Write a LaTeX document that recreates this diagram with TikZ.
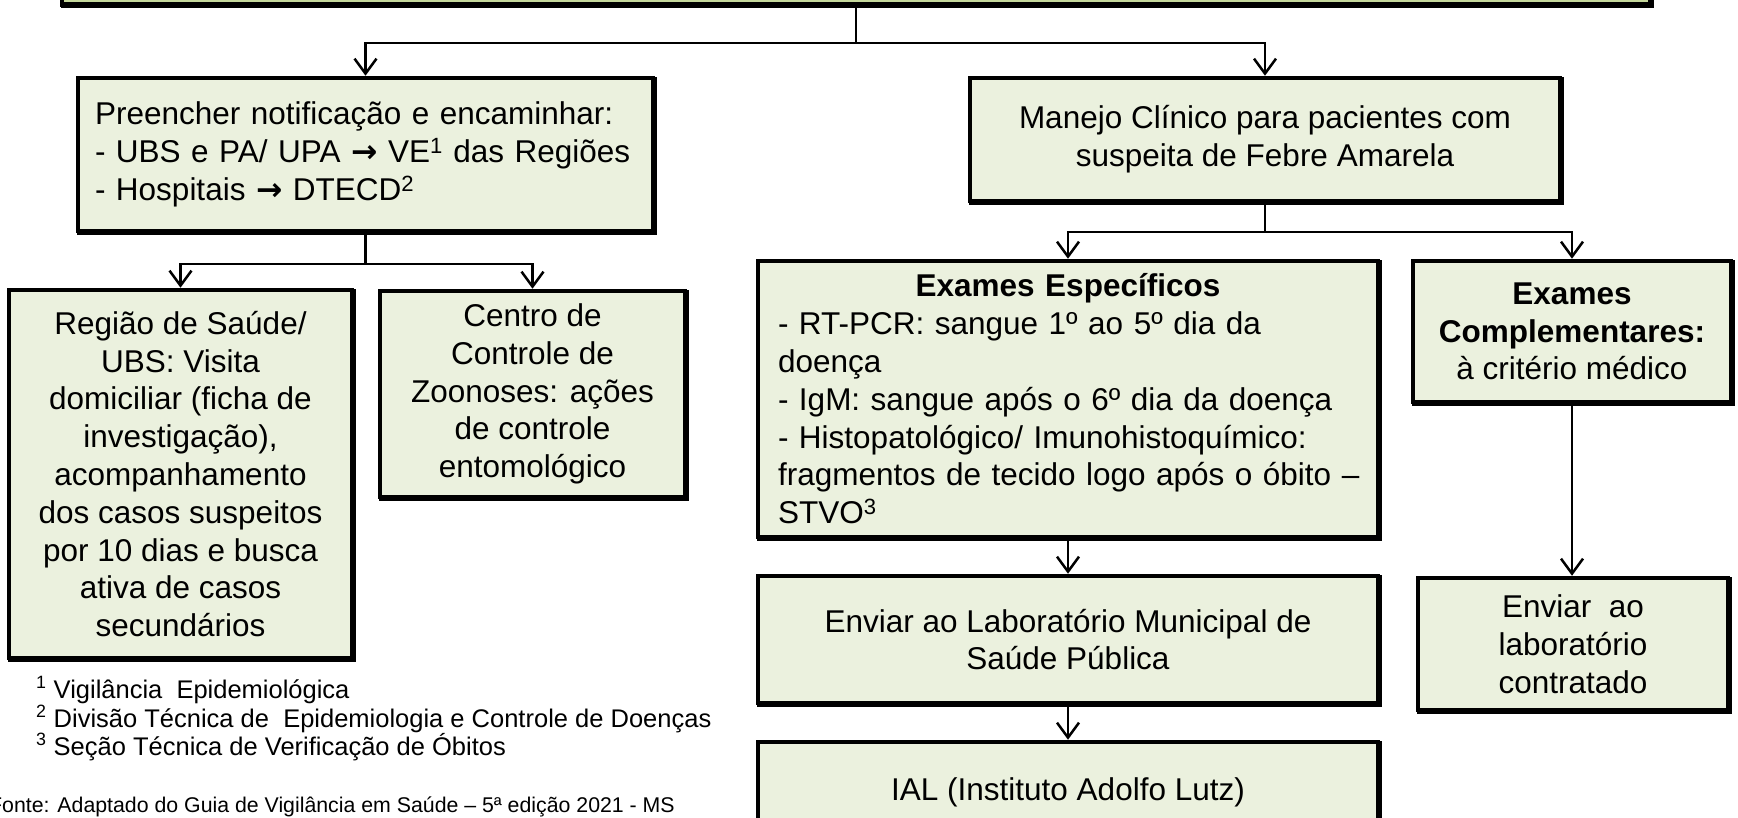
\documentclass[tikz,border=0pt]{standalone}
\usepackage{fontspec}
\setmainfont{Liberation Sans}
\newfontfamily\djv{DejaVu Sans}
\usetikzlibrary{arrows.meta}
\definecolor{boxfill}{HTML}{EBF1DE}
\definecolor{topfill}{HTML}{C4D79B}
\newcommand{\mainfs}{\fontsize{31.5}{37.8}\selectfont}
\newcommand{\fnfs}{\fontsize{25.5}{28}\selectfont}
\newcommand{\srcfs}{\fontsize{21.3}{24}\selectfont}
\newcommand{\rarr}{{\djv\bfseries →}}
\begin{document}
\begin{tikzpicture}[x=1pt,y=-1pt,
  box/.style={draw=black, line width=4.5pt, fill=boxfill, inner sep=0pt, font=\mainfs,
    preaction={draw=black, fill=black, line width=4.5pt, transform canvas={shift={(1.5pt,-1.5pt)}}}},
  conn/.style={draw=black, line width=2.5pt},
  arr/.style={conn, -{Straight Barb[length=15pt,width=22pt]}},
  note/.style={anchor=base west, inner sep=0pt}
]
\useasboundingbox (0,0) rectangle (1738,818);
\fill[white] (0,0) rectangle (1738,818);
\clip (0,0) rectangle (1738,818);

% top box (only its bottom edge shows)
\node[box, fill=topfill, minimum width=1588, minimum height=120] (top) at (856,-55.5) {};

\node[box, minimum width=575, minimum height=153, text width=541, align=left] (pre) at (365.5,154.5)
  {Preencher notificação e encaminhar:\\
   - UBS e PA/ UPA \rarr{} VE\textsuperscript{1} das Regiões\\
   - Hospitais \rarr{} DTECD\textsuperscript{2}};

\node[box, minimum width=590, minimum height=123, align=center] (man) at (1265,139.5)
  {Manejo Clínico para pacientes com\\suspeita de Febre Amarela};

\node[box, minimum width=343, minimum height=368, align=center] (reg) at (180.5,474)
  {Região de Saúde/\\UBS: Visita\\domiciliar (ficha de\\investigação),\\acompanhamento\\dos casos suspeitos\\por 10 dias e busca\\ativa de casos\\secundários};

\node[box, minimum width=305, minimum height=206, align=center] (cen) at (532.5,394)
  {Centro de\\Controle de\\Zoonoses: ações\\de controle\\entomológico};

\node[box, minimum width=620, minimum height=276, text width=580, align=left] (esp) at (1068,399)
  {\makebox[\linewidth][c]{\bfseries Exames Específicos}\\
   - RT-PCR: sangue 1º ao 5º dia da\\
   doença\\
   - IgM: sangue após o 6º dia da doença\\
   - Histopatológico/ Imunohistoquímico:\\
   \mbox{fragmentos de tecido logo após o óbito –}\\
   STVO\textsuperscript{3}};

\node[box, minimum width=318, minimum height=141, align=center] (comp) at (1572,331.5)
  {\textbf{Exames}\\\textbf{Complementares:}\\à critério médico};

\node[box, minimum width=620, minimum height=127, align=center] (mun) at (1068,639.5)
  {Enviar ao Laboratório Municipal de\\Saúde Pública};

\node[box, minimum width=310, minimum height=132, align=center] (cont) at (1573,644)
  {Enviar\ \ ao\\laboratório\\contratado};

\node[box, minimum width=620, minimum height=100, align=center] (ial) at (1068,792)
  {IAL (Instituto Adolfo Lutz)};

% connectors
\draw[conn] (top.south) -- ++(0,36.5) coordinate (j1);
\draw[arr] (j1) -| (pre.north);
\draw[arr] (j1) -| (man.north);
\draw[conn] (pre.south) -- ++(0,31) coordinate (j2);
\draw[arr] (j2) -| (reg.north);
\draw[arr] (j2) -| (cen.north);
\draw[conn] (man.south) -- ++(0,29) coordinate (j3);
\draw[arr] (j3) -| (esp.north);
\draw[arr] (j3) -| (comp.north);
\draw[arr] (esp.south) -- (mun.north);
\draw[arr] (comp.south) -- (comp.south |- cont.north);
\draw[arr] (mun.south) -- (ial.north);

% footnotes
\node[note, font=\fnfs] (fn1) at (36,698) {\textsuperscript{1} Vigilância\ \ Epidemiológica};
\node[note, font=\fnfs] (fn2) at (36,727) {\textsuperscript{2} Divisão Técnica de\ \ Epidemiologia e Controle de Doenças};
\node[note, font=\fnfs] (fn3) at (36,755) {\textsuperscript{3} Seção Técnica de Verificação de Óbitos};
\node[note, font=\srcfs] (src) at (-11,812) {Fonte: Adaptado do Guia de Vigilância em Saúde – 5ª edição 2021 - MS};
\end{tikzpicture}
\end{document}
